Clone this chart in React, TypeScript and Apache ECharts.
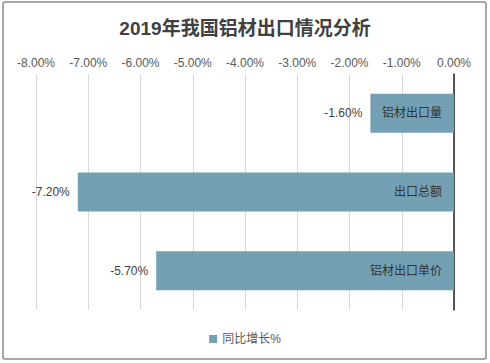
import React, { useEffect, useRef } from "react";
import * as echarts from "echarts";

const titleText = "2019年我国铝材出口情况分析";
const categories = ["铝材出口量", "出口总额", "铝材出口单价"];
const growth = [-1.6, -7.2, -5.7];
const seriesName = "同比增长%";

const FONT = "'Liberation Sans', Arial, 'Noto Sans CJK SC', sans-serif";

export default function App() {
  const ref = useRef<HTMLDivElement>(null);
  useEffect(() => {
    document.body.style.margin = "0";
    const chart = echarts.init(ref.current!, null, { renderer: "svg" });
    chart.setOption({
      animation: false,
      textStyle: { fontFamily: FONT },
      title: {
        text: titleText,
        left: "center",
        top: 14,
        textStyle: { fontSize: 19, fontWeight: "bold", color: "#404040", fontFamily: FONT },
      },
      graphic: [
        {
          type: "rect",
          shape: { x: 3, y: 2, width: 483, height: 357, r: 2 },
          style: { fill: "none", stroke: "#8c8c8c", lineWidth: 1.5 },
          silent: true,
        },
      ],
      legend: {
        data: [seriesName],
        bottom: 13,
        left: "center",
        itemWidth: 8,
        itemHeight: 8,
        icon: "rect",
        textStyle: { fontSize: 12, color: "#595959", fontFamily: FONT },
      },
      grid: { left: 36, right: 36, top: 74, bottom: 53 },
      xAxis: {
        type: "value",
        position: "top",
        min: -8,
        max: 0,
        interval: 1,
        axisLine: { show: false },
        axisTick: { show: false },
        axisLabel: {
          fontSize: 12,
          color: "#595959",
          margin: 5,
          formatter: (v: number) => v.toFixed(2) + "%",
        },
        splitLine: { show: true, lineStyle: { color: "#d9d9d9", width: 1 } },
      },
      yAxis: {
        type: "category",
        data: categories,
        inverse: true,
        position: "right",
        axisLine: { show: true, onZero: false, lineStyle: { color: "#222", width: 1.5 } },
        axisTick: { show: false },
        axisLabel: { show: false },
      },
      series: [
        {
          name: seriesName,
          type: "bar",
          data: growth,
          barWidth: 39,
          itemStyle: { color: "#73a1b3" },
          label: {
            show: true,
            position: "left",
            distance: 8,
            fontSize: 12,
            color: "#404040",
            formatter: (p: any) => Number(p.value).toFixed(2) + "%",
          },
        },
        {
          name: "cat",
          type: "bar",
          data: growth,
          barWidth: 39,
          barGap: "-100%",
          silent: true,
          itemStyle: { color: "rgba(0,0,0,0)" },
          label: {
            show: true,
            position: "insideRight",
            distance: 12,
            fontSize: 12,
            color: "#333",
            formatter: (p: any) => categories[p.dataIndex],
          },
        },
      ],
    });
    return () => chart.dispose();
  }, []);
  return <div ref={ref} style={{ width: 490, height: 363 }} />;
}
